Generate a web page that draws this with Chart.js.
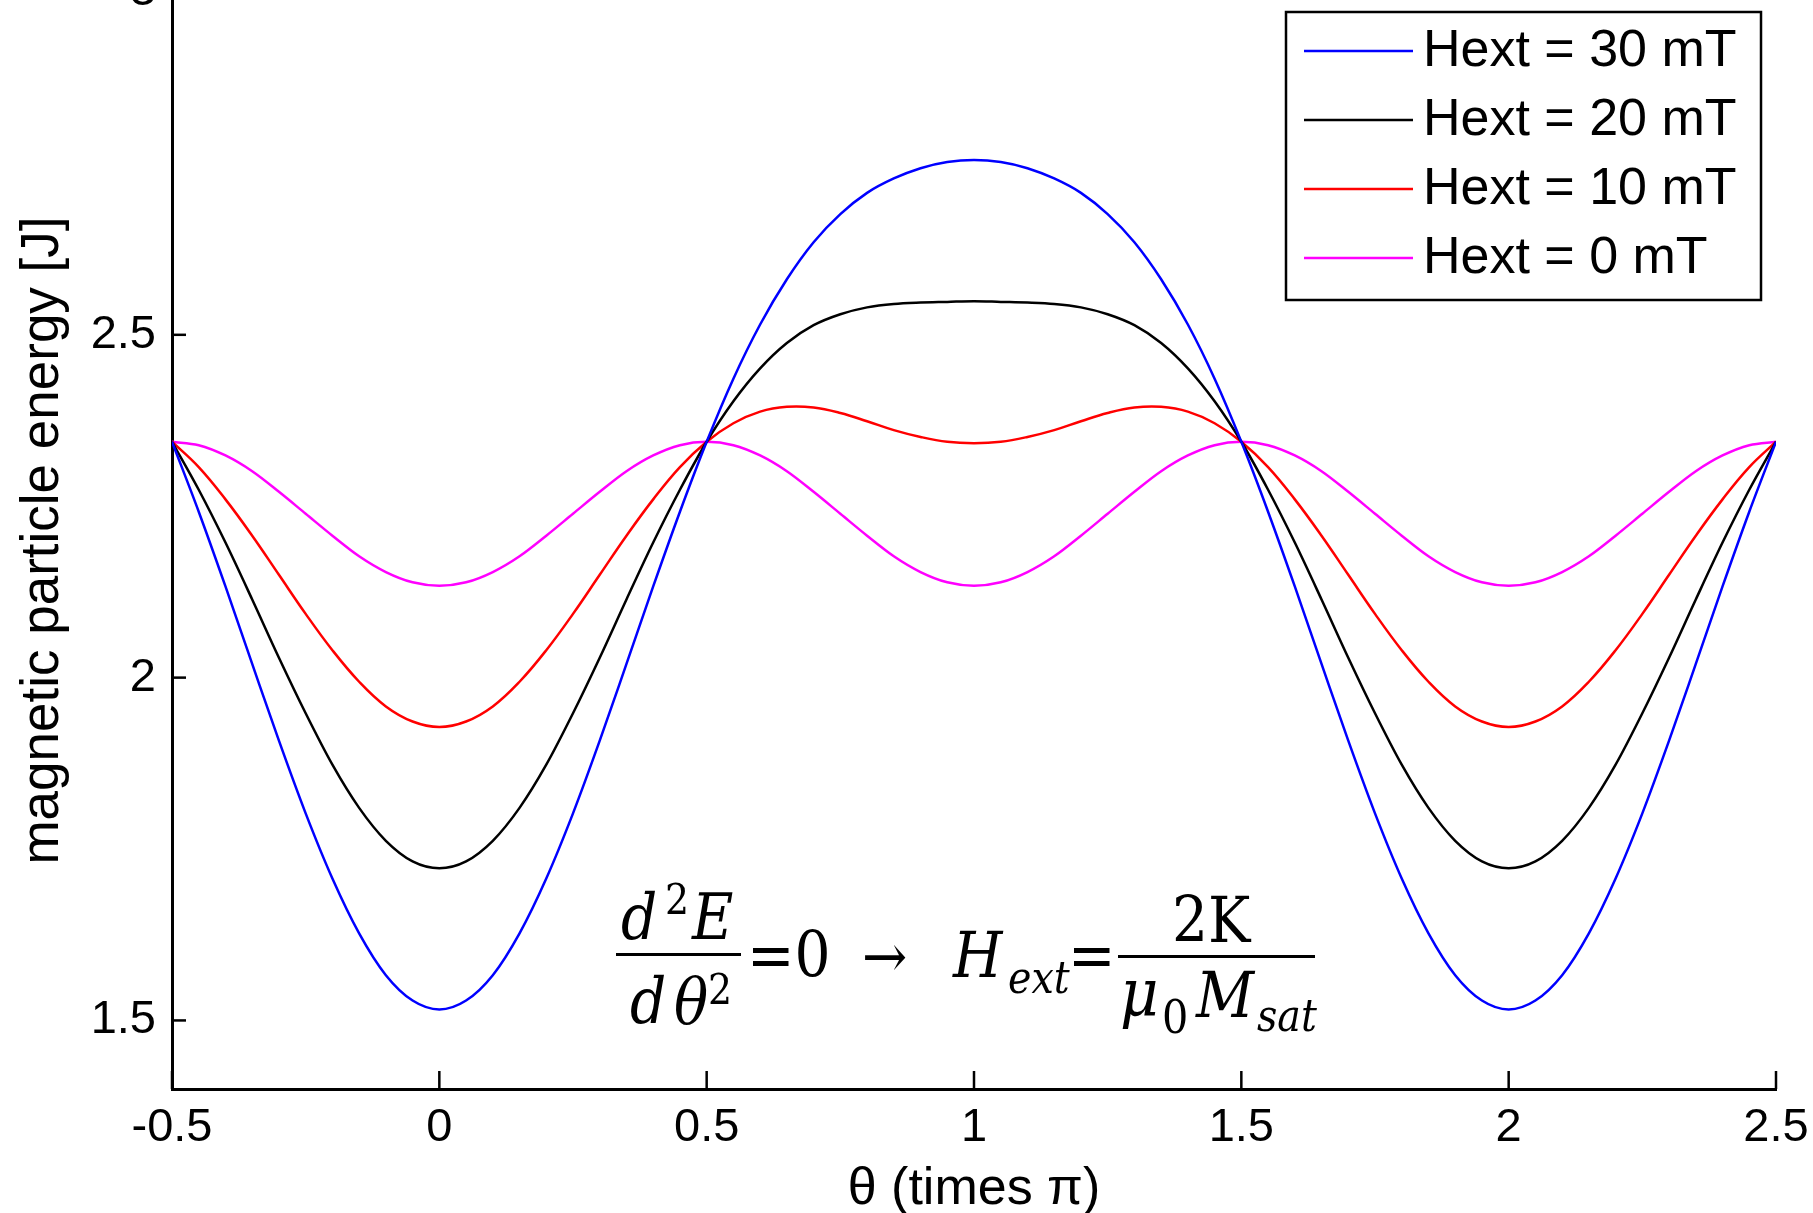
<!DOCTYPE html>
<html><head><meta charset="utf-8">
<script src="https://cdn.jsdelivr.net/npm/chart.js@4.4.1/dist/chart.umd.min.js"></script>
<style>
html,body{margin:0;padding:0;background:#fff;overflow:hidden;width:1813px;height:1213px;}
#wrap{position:absolute;left:0;top:-40px;width:1813px;height:1253px;}
canvas{display:block;}
</style></head><body>
<div id="wrap"><canvas id="c" width="1813" height="1253"></canvas></div>
<script>
// ---- data ----
const theta = [-0.5,-0.45,-0.4,-0.35,-0.3,-0.25,-0.2,-0.15,-0.1,-0.05,
  0,0.05,0.1,0.15,0.2,0.25,0.3,0.35,0.4,0.45,
  0.5,0.55,0.6,0.65,0.7,0.75,0.8,0.85,0.9,0.95,
  1,1.05,1.1,1.15,1.2,1.25,1.3,1.35,1.4,1.45,
  1.5,1.55,1.6,1.65,1.7,1.75,1.8,1.85,1.9,1.95,
  2,2.05,2.1,2.15,2.2,2.25,2.3,2.35,2.4,2.45,2.5];

const seriesLabels = ['Hext = 30 mT', 'Hext = 20 mT', 'Hext = 10 mT', 'Hext = 0 mT'];
const seriesColors = ['#0000ff', '#000000', '#ff0000', '#ff00ff'];

const hext30 = [2.344,2.242,2.133,2.020,1.908,1.802,1.707,1.627,1.566,1.529,
  1.516,1.529,1.566,1.627,1.707,1.802,1.908,2.020,2.133,2.242,
  2.344,2.436,2.515,2.581,2.635,2.676,2.707,2.728,2.743,2.752,
  2.755,2.752,2.743,2.728,2.707,2.676,2.635,2.581,2.515,2.436,
  2.344,2.242,2.133,2.020,1.908,1.802,1.707,1.627,1.566,1.529,
  1.516,1.529,1.566,1.627,1.707,1.802,1.908,2.020,2.133,2.242,2.344];

const hext20 = [2.344,2.274,2.197,2.114,2.029,1.948,1.873,1.810,1.762,1.732,
  1.722,1.732,1.762,1.810,1.873,1.948,2.029,2.114,2.197,2.274,
  2.344,2.403,2.451,2.488,2.514,2.530,2.540,2.545,2.547,2.548,
  2.549,2.548,2.547,2.545,2.540,2.530,2.514,2.488,2.451,2.403,
  2.344,2.274,2.197,2.114,2.029,1.948,1.873,1.810,1.762,1.732,
  1.722,1.732,1.762,1.810,1.873,1.948,2.029,2.114,2.197,2.274,2.344];

const hext10 = [2.344,2.307,2.260,2.207,2.150,2.093,2.040,1.994,1.958,1.936,
  1.928,1.936,1.958,1.994,2.040,2.093,2.150,2.207,2.260,2.307,
  2.344,2.371,2.388,2.395,2.394,2.386,2.374,2.361,2.351,2.344,
  2.342,2.344,2.351,2.361,2.374,2.386,2.394,2.395,2.388,2.371,
  2.344,2.307,2.260,2.207,2.150,2.093,2.040,1.994,1.958,1.936,
  1.928,1.936,1.958,1.994,2.040,2.093,2.150,2.207,2.260,2.307,2.344];

const hext0 = [2.344,2.339,2.324,2.301,2.271,2.239,2.207,2.177,2.154,2.139,
  2.134,2.139,2.154,2.177,2.207,2.239,2.271,2.301,2.324,2.339,
  2.344,2.339,2.324,2.301,2.271,2.239,2.207,2.177,2.154,2.139,
  2.134,2.139,2.154,2.177,2.207,2.239,2.271,2.301,2.324,2.339,
  2.344,2.339,2.324,2.301,2.271,2.239,2.207,2.177,2.154,2.139,
  2.134,2.139,2.154,2.177,2.207,2.239,2.271,2.301,2.324,2.339,2.344];

const seriesValues = [hext30, hext20, hext10, hext0];

const xTickValues = [-0.5, 0, 0.5, 1, 1.5, 2, 2.5];
const xTickLabels = ['-0.5', '0', '0.5', '1', '1.5', '2', '2.5'];
const yTickValues = [1.5, 2, 2.5, 3];
const yTickLabels = ['1.5', '2', '2.5', '3'];
const xTitle = 'θ (times π)';
const yTitle = 'magnetic particle energy [J]';

// ---- drawing ----
const OFF = 40; // canvas is shifted 40px above the page top
const SANS = "'Liberation Sans', Arial, sans-serif";
const SERIF = "'DejaVu Serif Condensed', 'DejaVu Serif', serif";

const inwardTicks = {
  id: 'inwardTicks',
  afterDraw(chart) {
    const {ctx, chartArea: a, scales: {x, y}} = chart;
    ctx.save();
    ctx.strokeStyle = '#000';
    ctx.lineWidth = 2.5;
    x.ticks.forEach(t => {
      const px = x.getPixelForValue(t.value);
      ctx.beginPath(); ctx.moveTo(px, a.bottom); ctx.lineTo(px, a.bottom - 18); ctx.stroke();
    });
    y.ticks.forEach(t => {
      const py = y.getPixelForValue(t.value);
      ctx.beginPath(); ctx.moveTo(a.left, py); ctx.lineTo(a.left + 14, py); ctx.stroke();
    });
    ctx.restore();
  }
};

const boxLegend = {
  id: 'boxLegend',
  afterDraw(chart) {
    const ctx = chart.ctx;
    ctx.save();
    const L = 1286, T = 12 + OFF, R = 1761, B = 300 + OFF;
    ctx.fillStyle = '#fff';
    ctx.fillRect(L, T, R - L, B - T);
    ctx.strokeStyle = '#000'; ctx.lineWidth = 2.5;
    ctx.strokeRect(L, T, R - L, B - T);
    const rows = [51, 120, 189, 258];
    chart.data.datasets.forEach((ds, i) => {
      const yy = rows[i] + OFF;
      ctx.strokeStyle = ds.borderColor; ctx.lineWidth = 2.5;
      ctx.beginPath(); ctx.moveTo(1304, yy); ctx.lineTo(1413, yy); ctx.stroke();
      ctx.fillStyle = '#000';
      ctx.font = '52px ' + SANS;
      ctx.textAlign = 'left'; ctx.textBaseline = 'middle';
      ctx.fillText(ds.label, 1423, yy + 1);
    });
    ctx.restore();
  }
};

const equation = {
  id: 'equation',
  afterDraw(chart) {
    const ctx = chart.ctx;
    ctx.save();
    ctx.fillStyle = '#000';
    ctx.textBaseline = 'alphabetic';
    ctx.textAlign = 'left';
    const t = (s, x, y, f) => { ctx.font = f; ctx.fillText(s, x, y + OFF); };
    const it = (px) => 'italic ' + px + 'px ' + SERIF;
    const up = (px) => px + 'px ' + SERIF;
    // left fraction
    t('d', 621, 939, it(63));
    t('2', 665, 914, up(42));
    t('E', 692, 939, it(63));
    ctx.fillRect(616, 953 + OFF, 125, 3);
    t('d', 630, 1023, it(63));
    t('θ', 674, 1023, it(63));
    t('2', 708, 1004, up(42));
    t('=0', 747, 977, up(63));
    // arrow
    t('→', 862, 977, up(60));
    // H_ext
    t('H', 953, 977, it(63));
    t('ext', 1008, 993, it(44));
    t('=', 1068, 977, up(63));
    // right fraction
    t('2K', 1172, 942, up(63));
    ctx.fillRect(1118, 955 + OFF, 197, 3);
    t('μ', 1120, 1015, it(66));
    t('0', 1162, 1033, up(46));
    t('M', 1196, 1017, it(63));
    t('sat', 1257, 1031, it(44));
    ctx.restore();
  }
};

const datasets = seriesValues.map((vals, i) => ({
  label: seriesLabels[i],
  data: theta.map((th, k) => ({x: th, y: vals[k]})),
  borderColor: seriesColors[i],
  backgroundColor: seriesColors[i],
  borderWidth: 2.5,
  pointRadius: 0,
  cubicInterpolationMode: i === 2 ? 'default' : 'monotone',
  tension: 0.4,
  fill: false
}));

new Chart(document.getElementById('c'), {
  type: 'line',
  data: {datasets},
  options: {
    responsive: false,
    animation: false,
    devicePixelRatio: 1,
    layout: {padding: {top: 32, right: 37, left: 0, bottom: 0}},
    plugins: {legend: {display: false}, tooltip: {enabled: false}},
    scales: {
      x: {
        type: 'linear', min: -0.5, max: 2.5,
        afterBuildTicks: (s) => { s.ticks = xTickValues.map(v => ({value: v})); },
        afterFit: (s) => { s.height = 124; s.paddingLeft = 0; s.paddingRight = 0; },
        grid: {display: false, drawTicks: false},
        border: {display: true, color: '#000', width: 3},
        ticks: {
          color: '#000', padding: 11, maxRotation: 0, autoSkip: false,
          font: {family: SANS, size: 47},
          callback: (v) => { const i = xTickValues.indexOf(v); return i >= 0 ? xTickLabels[i] : ''; }
        },
        title: {display: true, text: xTitle, color: '#000',
          font: {family: SANS, size: 52, lineHeight: 1.2}, padding: {top: 0, bottom: -8}}
      },
      y: {
        type: 'linear', min: 1.4, max: 3,
        afterBuildTicks: (s) => { s.ticks = yTickValues.map(v => ({value: v})); },
        afterFit: (s) => { s.width = 172; s.paddingTop = 0; s.paddingBottom = 0; },
        grid: {display: false, drawTicks: false},
        border: {display: true, color: '#000', width: 3},
        ticks: {
          color: '#000', padding: 16, autoSkip: false,
          font: {family: SANS, size: 47},
          callback: (v) => { const i = yTickValues.indexOf(v); return i >= 0 ? yTickLabels[i] : ''; }
        },
        title: {display: true, text: yTitle, color: '#000',
          font: {family: SANS, size: 53, lineHeight: 1.2}, padding: {top: 12, bottom: 0}}
      }
    }
  },
  plugins: [inwardTicks, boxLegend, equation]
});
</script>
</body></html>
